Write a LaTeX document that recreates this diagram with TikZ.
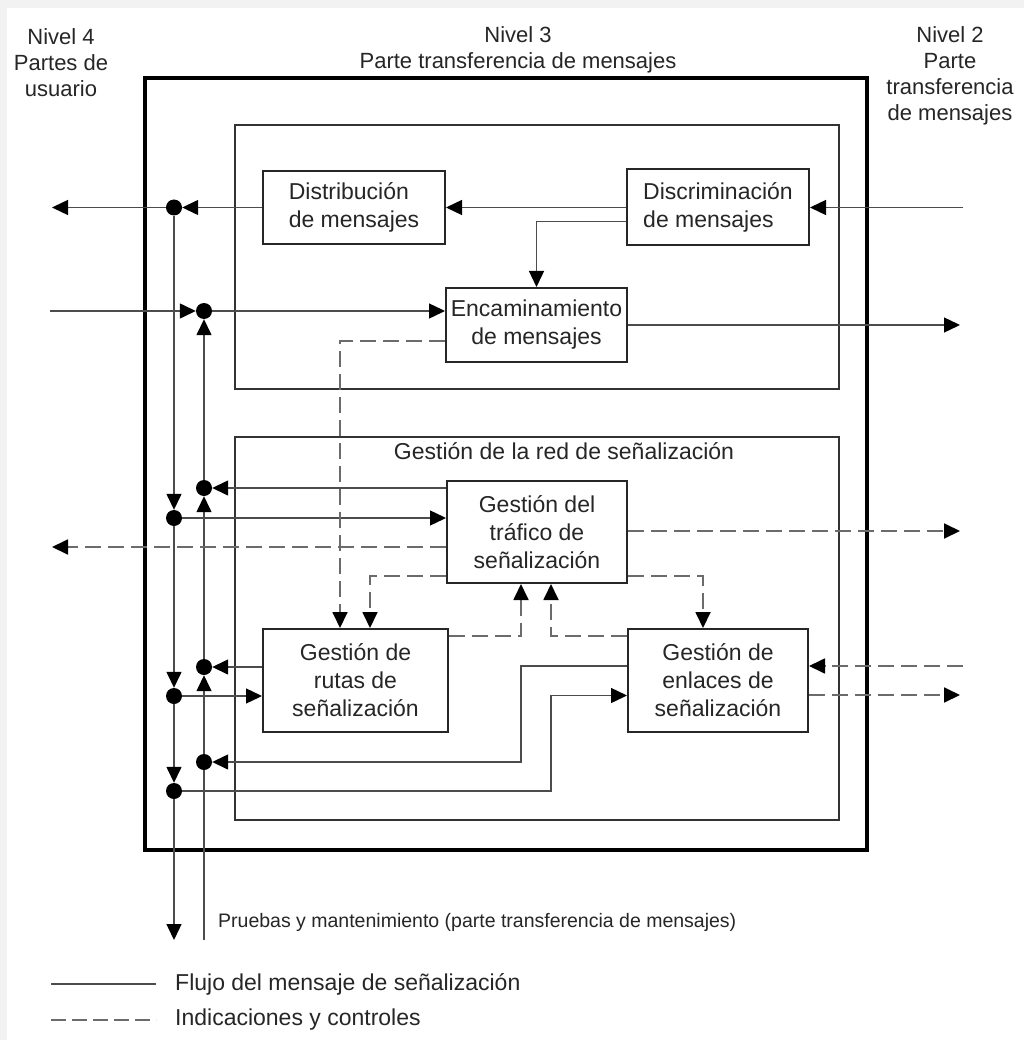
\documentclass[tikz,border=0pt]{standalone}
\usepackage{fontspec}
\setmainfont{Liberation Sans}
\usetikzlibrary{arrows.meta,calc}

\begin{document}
\begin{tikzpicture}[x=1pt,y=-1pt,
  box/.style={draw=black!85,line width=2pt,inner sep=0pt,align=center,text=black!85,
    font=\fontsize{23}{28}\selectfont},
  frame/.style={draw=black!80,line width=1.8pt},
  dot/.style={circle,fill=black,inner sep=0pt,minimum size=16pt},
  plain/.style={draw=black!70,line width=1.4pt},
  flow/.style={plain,-{Triangle[length=16pt,width=15pt,color=black]}},
  ctrl/.style={flow,draw=black!58,line width=1.8pt,dash pattern=on 16pt off 7pt},
  lbl/.style={align=center,text=black!85,font=\fontsize{22}{26}\selectfont}]
\fill[black!5] (0,0) rectangle (1024,1040);
\fill[white] (7,8) rectangle (1024,1040);
\useasboundingbox (0,0) rectangle (1024,1040);
\draw[line width=4.5pt] (145,78) rectangle (867,850);
\draw[frame] (235,125) rectangle (839,389);
\draw[frame] (235,437) rectangle (839,820);
\node[lbl] (niv4) at (61,63) {Nivel 4\\Partes de\\usuario};
\node[lbl] (niv3) at (518,50) {Nivel 3\\Parte transferencia de mensajes};
\node[lbl] (niv2) at (950,76) {Nivel 2\\Parte\\transferencia\\de mensajes};
\node[lbl,font=\fontsize{23}{28}\selectfont] (red) at (564,451) {Gestión de la red de señalización};
\node[box,minimum width=182,minimum height=73,align=left] (dist) at (354,207.5) {Distribución\\de mensajes};
\node[box,minimum width=182,minimum height=76,align=left] (disc) at (718,207.5) {Discriminación\\de mensajes};
\node[box,minimum width=181,minimum height=74] (enc) at (536.5,325) {Encaminamiento\\de mensajes};
\node[box,minimum width=180,minimum height=102] (traf) at (537,532) {Gestión del\\tráfico de\\señalización};
\node[box,minimum width=185,minimum height=103] (rut) at (355.5,680.5) {Gestión de\\rutas de\\señalización};
\node[box,minimum width=180,minimum height=103] (enl) at (718,680.5) {Gestión de\\enlaces de\\señalización};
\foreach \n/\y in {1/207.5,2/518,3/696,4/791} {\node[dot] (a\n) at (174,\y) {};}
\foreach \n/\y in {1/311,2/488,3/667,4/762} {\node[dot] (b\n) at (204,\y) {};}
\coordinate (aout) at (174,940);
\coordinate (bin) at (204,940);
\coordinate (l4a) at (52,207.5);
\coordinate (l4b) at (50,311);
\coordinate (l4c) at (52,547);
\coordinate (l2a) at (963,207.5);
\coordinate (l2b) at (960,325);
\coordinate (l2c) at (960,531);
\coordinate (l2d) at (963,666);
\coordinate (l2e) at (960,695);
\coordinate (j1) at (521,762);
\coordinate (j2) at (551,695.5);
\foreach \i/\j in {1/2,2/3,3/4} {\draw[flow] (a\i) -- (a\j);}
\draw[flow] (a4) -- (aout);
\foreach \i/\j in {2/1,3/2,4/3} {\draw[flow] (b\i) -- (b\j);}
\draw[plain] (bin) -- (b4);
\draw[flow] (dist.west) -- (a1);
\draw[flow] (a1) -- (l4a);
\draw[flow] (disc.west) -- (dist.east);
\draw[flow] (l2a) -- (disc.east);
\draw[flow] ($(disc.west)+(0,14)$) -| (enc.north);
\draw[flow] (l4b) -- (b1);
\draw[flow] (b1) -- (b1 -| enc.west);
\draw[flow] (enc.east) -- (l2b);
\draw[flow] (traf.west |- b2) -- (b2);
\draw[flow] (a2) -- (a2 -| traf.west);
\draw[flow] (rut.west |- b3) -- (b3);
\draw[flow] (a3) -- (a3 -| rut.west);
\draw[flow] ($(enl.west)+(0,-14.5)$) -| (j1) -- (b4);
\draw[flow] (a4) -| (j2) -- (j2 -| enl.west);
\draw[ctrl] ($(enc.west)+(0,16)$) -| ($(rut.north)+(-15.5,0)$);
\draw[ctrl] (l4c -| traf.west) -- (l4c);
\draw[ctrl] (l2c -| traf.east) -- (l2c);
\draw[ctrl] ($(traf.west)+(0,44)$) -| ($(rut.north)+(14.5,0)$);
\draw[ctrl] ($(traf.east)+(0,44)$) -| ($(enl.north)+(-15,0)$);
\draw[ctrl] ($(rut.east)+(0,-44.5)$) -| ($(traf.south)+(-16,0)$);
\draw[ctrl] ($(enl.west)+(0,-44.5)$) -| ($(traf.south)+(14,0)$);
\draw[ctrl] (l2d) -- (l2d -| enl.east);
\draw[ctrl] (l2e -| enl.east) -- (l2e);
\node[anchor=west,inner sep=0pt,text=black!85,font=\fontsize{19.5}{22}\selectfont] (prueb) at (218,922) {Pruebas y mantenimiento (parte transferencia de mensajes)};
\coordinate (lg1) at (51,984);
\coordinate (lg1e) at (156,984);
\coordinate (lg2) at (51,1020);
\coordinate (lg2e) at (156,1020);
\draw[plain] (lg1) -- (lg1e);
\draw[plain,draw=black!58,line width=1.8pt,dash pattern=on 15pt off 6pt] (lg2) -- (lg2e);
\node[lbl,anchor=west,inner sep=0pt,font=\fontsize{23}{28}\selectfont] (lgt1) at (175,984) {Flujo del mensaje de señalización};
\node[lbl,anchor=west,inner sep=0pt,font=\fontsize{23}{28}\selectfont] (lgt2) at (175,1020) {Indicaciones y controles};
\end{tikzpicture}
\end{document}
